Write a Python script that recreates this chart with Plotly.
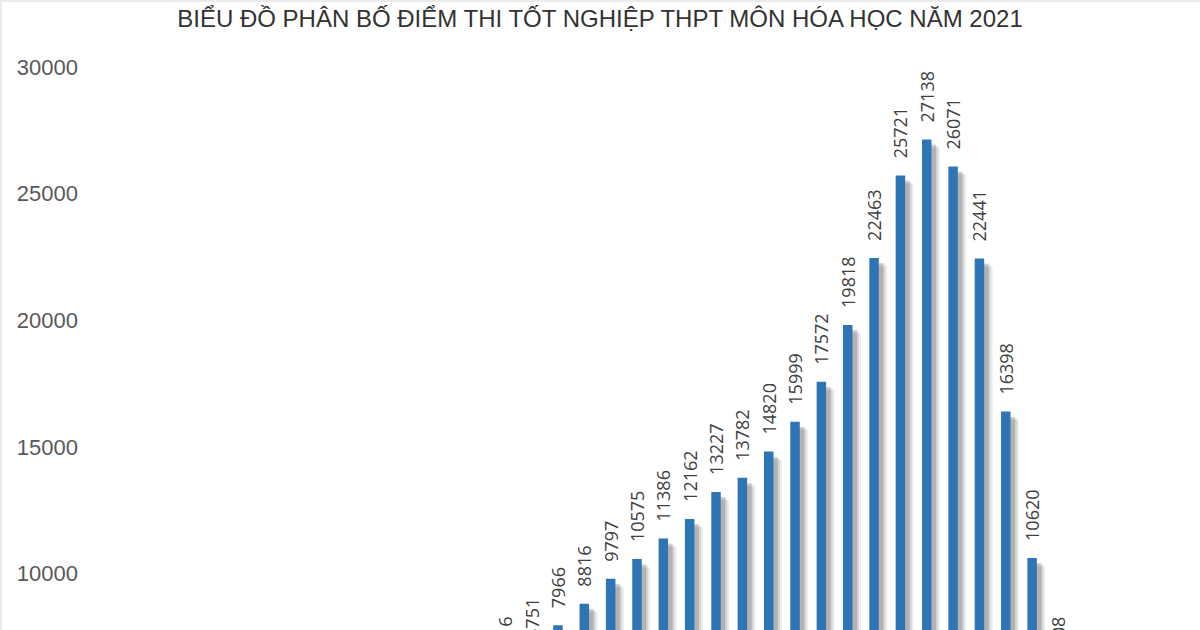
import plotly.graph_objects as go

# Score categories (0 -> 10, step 0.25)
scores = [0.0, 0.25, 0.5, 0.75, 1.0, 1.25, 1.5, 1.75, 2.0, 2.25,
          2.5, 2.75, 3.0, 3.25, 3.5, 3.75, 4.0, 4.25, 4.5, 4.75,
          5.0, 5.25, 5.5, 5.75, 6.0, 6.25, 6.5, 6.75, 7.0, 7.25,
          7.5, 7.75, 8.0, 8.25, 8.5, 8.75, 9.0, 9.25, 9.5, 9.75, 10.0]

# Number of candidates per score (values below ~7800 are outside the visible crop -> estimated)
counts = [2, 1, 3, 8, 25, 70, 180, 400, 780, 1350,
          2100, 2950, 3800, 4650, 5400, 6016, 6751, 7966, 8816, 9797,
          10575, 11386, 12162, 13227, 13782, 14820, 15999, 17572, 19818, 22463,
          25721, 27138, 26071, 22441, 16398, 10620, 6008, 2800, 1100, 300, 60]

title_text = "BIỂU ĐỒ PHÂN BỐ ĐIỂM THI TỐT NGHIỆP THPT MÔN HÓA HỌC NĂM 2021"
y_tickvals = [10000, 15000, 20000, 25000, 30000]
y_ticktext = ["10000", "15000", "20000", "25000", "30000"]

BAR_BLUE = "#2E75B6"
STEP = 0.25            # category spacing in data units
PX = STEP / 26.35      # one pixel in x data units
bar_w = 9.5 * PX

W, H = 1200, 630
ML, MR, MT, MB = 97, 23, 50, 0

fig = go.Figure()

# soft shadow layers (drawn behind the bars)
shadow_layers = [
    (1.5, 7.0, 330, "rgba(0,0,0,0.07)"),
    (1.5, 5.0, 260, "rgba(0,0,0,0.10)"),
    (1.5, 3.0, 200, "rgba(0,0,0,0.16)"),
]
for dx, extra, drop, col in shadow_layers:
    fig.add_trace(go.Bar(
        x=scores, y=[c - drop for c in counts],
        width=bar_w + extra * PX, offset=-bar_w / 2 + dx * PX,
        marker=dict(color=col, line=dict(width=0)),
        hoverinfo="skip", showlegend=False,
    ))

# labels of bars far below the visible crop are not shown in the picture
labels = ["\u00a0\u00a0\u00a0" + str(c) if c >= 6000 else "" for c in counts]

fig.add_trace(go.Bar(
    x=scores, y=counts,
    width=bar_w, offset=-bar_w / 2,
    marker=dict(color=BAR_BLUE, line=dict(width=0)),
    text=labels,
    textposition="outside", textangle=-90,
    constraintext="none", cliponaxis=True,
    textfont=dict(family="Open Sans", size=18, color="#404040"),
    showlegend=False,
))

pw = W - ML - MR
ph = H - MT - MB
x_left = -ML / pw
x_right = (W - ML) / pw
y_top = (H - MB) / ph

fig.update_layout(
    width=W, height=H,
    barmode="overlay",
    paper_bgcolor="white", plot_bgcolor="white",
    margin=dict(l=ML, r=MR, t=MT, b=MB),
    title=dict(text=title_text, x=0.5, xanchor="center", xref="container",
               y=1 - 19 / H, yanchor="middle", yref="container",
               font=dict(family="Liberation Sans", size=24, color="#333333")),
    xaxis=dict(range=[-STEP / 2, 10 + STEP / 2], showticklabels=False,
               showgrid=False, zeroline=False, showline=False, ticks=""),
    yaxis=dict(range=[7777, 30671], tickvals=y_tickvals, ticktext=y_ticktext,
               showgrid=False, zeroline=False, showline=False, ticks="",
               ticklabelstandoff=18,
               tickfont=dict(family="Liberation Sans", size=22, color="#595959")),
    shapes=[
        dict(type="line", xref="paper", yref="paper",
             x0=x_left, x1=x_right, y0=y_top - 1 / ph, y1=y_top - 1 / ph,
             line=dict(color="#ebebeb", width=2)),
        dict(type="line", xref="paper", yref="paper",
             x0=x_left + 1 / pw, x1=x_left + 1 / pw, y0=0, y1=y_top,
             line=dict(color="#ebebeb", width=2)),
    ],
    uniformtext=dict(mode=False),
)

fig.write_html("out.html")
